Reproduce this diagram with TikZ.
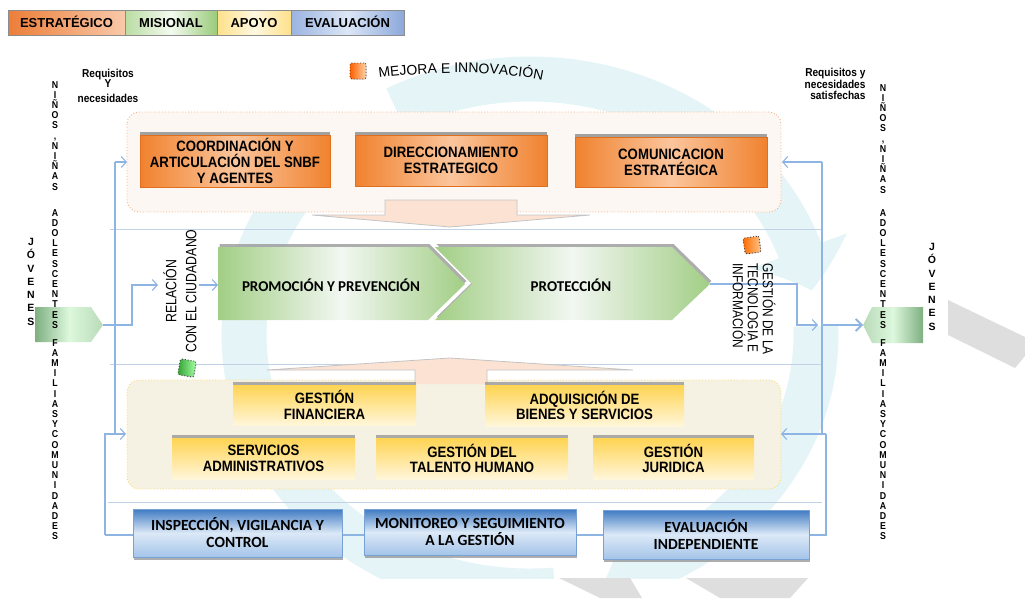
\documentclass[tikz,border=0pt]{standalone}
\usepackage{fontspec}
\setmainfont{Liberation Sans}
\newfontfamily\narrowf[FakeStretch=0.88]{Liberation Sans}
\newfontfamily\rotf[FakeStretch=0.82]{Liberation Sans}
\newfontfamily\calib{Carlito}
\usetikzlibrary{arrows.meta,bending,shadows,decorations.text,calc}
\definecolor{ringc}{HTML}{E5F4F7}
\definecolor{greyc}{HTML}{DEDEDE}
\definecolor{connc}{HTML}{8DB4E2}
\definecolor{sepc}{HTML}{C2D2E6}
\definecolor{topfill}{HTML}{FDF7F3}
\definecolor{topbord}{HTML}{F4B183}
\definecolor{botfill}{HTML}{F5F2E3}
\definecolor{botbord}{HTML}{FFD966}
\definecolor{peach}{HTML}{FBE2D2}
\definecolor{peachb}{HTML}{C4C4C4}
\definecolor{orA}{HTML}{F0822F}
\definecolor{orB}{HTML}{FBC59C}
\definecolor{orBd}{HTML}{E0701E}
\definecolor{yeA}{HTML}{FFD452}
\definecolor{yeB}{HTML}{FFF6DA}
\definecolor{blA}{HTML}{3F7AC2}
\definecolor{blB}{HTML}{DCE9F7}
\definecolor{blC}{HTML}{A4C4E9}
\definecolor{grA}{HTML}{A2CE85}
\definecolor{grB}{HTML}{F2F7F2}
\definecolor{pdark}{HTML}{7FAF80}
\definecolor{pmint}{HTML}{DDF8DD}
\definecolor{pmid}{HTML}{B9DAB9}
\definecolor{lgOa}{HTML}{EC7E38}
\definecolor{lgOb}{HTML}{F9C9AA}
\definecolor{lgGa}{HTML}{B9DCA2}
\definecolor{lgGb}{HTML}{F3FAEF}
\definecolor{lgGc}{HTML}{9ACB7A}
\definecolor{lgYa}{HTML}{FFE08A}
\definecolor{lgYb}{HTML}{FFF8E0}
\definecolor{lgBa}{HTML}{9AB3E0}
\definecolor{lgBb}{HTML}{DCE6F6}
\definecolor{lgBc}{HTML}{8CA8DA}
\begin{document}
\begin{tikzpicture}[x=1pt,y=-1pt,
  leg/.style={draw=black!45, line width=0.6pt, inner sep=0pt, minimum height=25pt,
    text height=9.4pt, text depth=0pt, font=\bfseries\fontsize{13}{13}\selectfont},
  cont/.style={rounded corners=12pt, line width=0.9pt, dotted},
  sep/.style={draw=sepc, line width=0.8pt},
  conn/.style={draw=connc, line width=1.1pt},
  arr/.style={-{Straight Barb[length=5pt,width=11pt]}},
  ringarrow/.style={draw=ringc, line width=45pt, -{Triangle[length=42pt,width=100pt,bend]}},
  obox/.style={draw=orBd, line width=0.5pt, inner sep=0pt, align=center,
    left color=orA, right color=orA, middle color=orB,
    drop shadow={shadow xshift=0pt, shadow yshift=3pt, fill=black!45, opacity=0.8},
    font=\narrowf\bfseries\fontsize{15}{16}\selectfont},
  ybox/.style={inner sep=0pt, align=center, top color=yeA, bottom color=yeB,
    drop shadow={shadow xshift=0pt, shadow yshift=3pt, fill=black!40, opacity=0.8},
    font=\narrowf\bfseries\fontsize{15}{15.5}\selectfont},
  bbox/.style={draw=blA!70, line width=0.4pt, inner sep=0pt, align=center,
    top color=blA, bottom color=blC, middle color=blB,
    drop shadow={shadow xshift=1pt, shadow yshift=-3pt, fill=black!45, opacity=0.7},
    font=\calib\bfseries\fontsize{15.5}{17}\selectfont},
  chev/.style={left color=grA, right color=grA, middle color=grB,
    drop shadow={shadow xshift=1.5pt, shadow yshift=3pt, fill=black!40, opacity=0.8}},
  sq/.style={draw=black!75, dotted, line width=0.9pt, rounded corners=2pt,
    minimum size=16pt, inner sep=0pt,
    drop shadow={shadow xshift=0.5pt, shadow yshift=-0.5pt, fill=black!30, opacity=0.6}},
  stack/.style={align=center, inner sep=0pt, anchor=north,
    font=\narrowf\bfseries\fontsize{10}{10.2}\selectfont},
  jstack/.style={align=center, inner sep=0pt, anchor=north,
    font=\bfseries\fontsize{10.5}{13.3}\selectfont},
  peacharrow/.style={fill=peach, draw=peachb, line width=0.8pt}
]
\useasboundingbox (0,0) rectangle (1025,598);
% ---------- background decoration ----------
\begin{scope}
\clip (0,0) rectangle (1025,578);
\coordinate (RC) at (530,335);
\draw[ringarrow] ($(RC)+(85:286 and 256)$) arc[start angle=85, end angle=232, x radius=286, y radius=256];
\draw[ringarrow] ($(RC)+(242:286 and 256)$) arc[start angle=242, end angle=350, x radius=286, y radius=256];
\draw[ringarrow] ($(RC)+(-2:286 and 256)$) arc[start angle=-2, end angle=75, x radius=286, y radius=256];
\end{scope}
\fill[greyc] (948,300) -- (1025,337) -- (1025,356) -- (1015,368) -- (948,335) -- cycle;
\fill[greyc] (559,578) -- (630,578) -- (642,598) -- (600,598) -- cycle;
\fill[greyc] (686,578) -- (808,578) -- (790,598) -- (720,598) -- cycle;
% ---------- legend ----------
\node[leg, minimum width=117pt, left color=lgOa, right color=lgOb] (lE) at (66.5,22.5) {ESTRATÉGICO};
\node[leg, minimum width=92pt, left color=lgGa, right color=lgGc, middle color=lgGb] (lM) at (171,22.5) {MISIONAL};
\node[leg, minimum width=74pt, left color=lgYa, right color=lgYa, middle color=lgYb] (lA) at (254,22.5) {APOYO};
\node[leg, minimum width=113pt, left color=lgBa, right color=lgBc, middle color=lgBb] (lV) at (347.5,22.5) {EVALUACIÓN};
% ---------- containers ----------
\draw[cont, draw=topbord, fill=topfill] (127,112) rectangle (781,212);
\draw[cont, draw=botbord, fill=botfill] (127,380) rectangle (781,489);
% separators
\draw[sep] (110,229) -- (822,229);
\draw[sep] (110,364) -- (822,364);
\draw[sep] (108,502) -- (822,502);
% ---------- pentagons ----------
\path[left color=pdark, right color=pmid, middle color=pmint] (35,307) -- (91,307) -- (103,325) -- (91,342) -- (35,342) -- cycle;
\path[left color=pmid, right color=pdark, middle color=pmint] (863,325) -- (872,307) -- (923,307) -- (923,343) -- (872,343) -- cycle;
\coordinate (pentL) at (103,325);
\coordinate (pentR) at (863,325);
% ---------- side texts ----------
\node[font=\narrowf\bfseries\fontsize{11.5}{11.5}\selectfont, align=center] (reqL) at (108,86)
  {Requisitos\\[-1pt]Y\\[3.5pt]necesidades};
\node[font=\narrowf\bfseries\fontsize{11.5}{11.7}\selectfont, align=right, anchor=east] (reqR) at (869,84)
  {Requisitos y\\necesidades\\satisfechas};
\node[stack] (lc1) at (55,81) {N\\I\\Ñ\\O\\S\\,\\N\\I\\Ñ\\A\\S};
\node[stack] (lc2) at (55,209) {A\\D\\O\\L\\E\\S\\C\\E\\N\\T\\E\\S};
\node[stack] (lc3) at (55,339) {F\\A\\M\\I\\L\\I\\A\\S\\Y\\C\\O\\M\\U\\N\\I\\D\\A\\D\\E\\S};
\node[stack] (rc1) at (883,84) {N\\I\\Ñ\\O\\S\\,\\N\\I\\Ñ\\A\\S};
\node[stack] (rc2) at (883,209) {A\\D\\O\\L\\E\\S\\C\\E\\N\\T\\E\\S};
\node[stack] (rc3) at (883,339) {F\\A\\M\\I\\L\\I\\A\\S\\Y\\C\\O\\M\\U\\N\\I\\D\\A\\D\\E\\S};
\node[jstack] (jl) at (31,238) {J\\Ó\\V\\E\\N\\E\\S};
\node[jstack] (jr) at (932,243) {J\\Ó\\V\\E\\N\\E\\S};
% ---------- connectors ----------
\coordinate (ltop) at (115,162);
\coordinate (lbot) at (115,434);
\coordinate (lloopa) at (105,434);
\coordinate (lloopb) at (105,535);
\coordinate (rloopb) at (826,535);
\coordinate (rloopa) at (826,434);
\coordinate (rtop) at (822,162);
\coordinate (rmid) at (822,434);
\coordinate (topL) at (127,162);
\coordinate (topR) at (782,162);
\coordinate (botL) at (126,434);
\coordinate (botR) at (781,434);
\draw[conn] (ltop) -- (lbot);
\draw[conn, arr] (ltop) -- (topL);
\draw[conn, arr] (lloopb) -- (lloopa) -- (botL);
\draw[conn] (lloopb) -- (rloopb) -- (rloopa);
\draw[conn, arr] (rloopa) -- (botR);
\draw[conn] (rtop) -- (rmid);
\draw[conn, arr] (rtop) -- (topR);
% ---------- big peach arrows ----------
\draw[peacharrow] (385,200) -- (517,200) -- (517,215) -- (590,215) -- (450,227) -- (312,215) -- (385,215) -- cycle;
\draw[peacharrow] (415,384) -- (415,370) -- (267,370) -- (450,358) -- (633,370) -- (487,370) -- (487,384);
% ---------- orange boxes ----------
\node[obox, minimum width=190pt, minimum height=52pt] (o1) at (235,161) {COORDINACIÓN Y\\ARTICULACIÓN DEL SNBF\\Y AGENTES};
\node[obox, minimum width=192pt, minimum height=51pt] (o2) at (451,160.5) {DIRECCIONAMIENTO\\ESTRATEGICO};
\node[obox, minimum width=192pt, minimum height=50pt] (o3) at (671,162) {COMUNICACION\\ESTRATÉGICA};
% ---------- chevrons ----------
\path[chev] (218,247) -- (428,247) -- (465,284) -- (428,320) -- (218,320) -- cycle;
\path[chev] (435,247) -- (672,247) -- (710,284) -- (672,320) -- (435,320) -- (472,284) -- cycle;
\node[font=\calib\bfseries\fontsize{15}{15}\selectfont] (promo) at (331,285) {PROMOCIÓN Y PREVENCIÓN};
\node[font=\calib\bfseries\fontsize{15}{15}\selectfont] (prot) at (571,285) {PROTECCIÓN};
\coordinate (protTip) at (710,284);
\coordinate (promoIn) at (218,285);
\coordinate (inA) at (132,325);
\coordinate (inB) at (132,285);
\coordinate (inC) at (158,285);
\coordinate (inD) at (199,285);
\coordinate (outA) at (797,284);
\coordinate (outB) at (797,325);
\coordinate (outC) at (818,325);
\coordinate (outD) at (822,325);
\draw[conn, arr] (pentL) -- (inA) -- (inB) -- (inC);
\draw[conn, arr] (inD) -- (promoIn);
\draw[conn, arr] (protTip) -- (outA) -- (outB) -- (outC);
\draw[conn, line width=1.8pt, -{Straight Barb[length=6pt,width=12pt]}] (outD) -- (pentR);
% ---------- rotated labels ----------
\node[rotate=90, align=center, font=\rotf\fontsize{15}{20}\selectfont] (rel) at (180,291) {RELACIÓN\\CON EL CIUDADANO};
\node[rotate=-90, align=left, font=\rotf\fontsize{14.5}{15}\selectfont] (tec) at (754,309) {GESTIÓN DE LA\\TECNOLOGIA E\\INFORMACIÓN};
% ---------- small squares ----------
\node[sq, rotate=-10, left color=green!55!black!80, right color=green!35!white] (sqG) at (187,368) {};
\node[sq, rotate=8, left color=orange!85!red, right color=orange!45!white] (sqO) at (752,245) {};
\node[sq, left color=orange!75!red, right color=orange!35!white] (sqM) at (358,71) {};
\path[decorate, decoration={text along path, text align=left,
   text={|\fontsize{14}{14}\selectfont|MEJORA E INNOVACIÓN}}]
   (379,78) .. controls (440,70) and (510,71) .. (556,84);
% ---------- yellow boxes ----------
\node[ybox, minimum width=183pt, minimum height=40pt] (y1) at (324.5,405) {GESTIÓN\\FINANCIERA};
\node[ybox, minimum width=199pt, minimum height=41pt] (y2) at (584.5,405.5) {ADQUISICIÓN DE\\BIENES Y SERVICIOS};
\node[ybox, minimum width=183pt, minimum height=41pt] (y3) at (263.5,458.5) {SERVICIOS\\ADMINISTRATIVOS};
\node[ybox, minimum width=192pt, minimum height=41pt] (y4) at (472,458.5) {GESTIÓN DEL\\TALENTO HUMANO};
\node[ybox, minimum width=161pt, minimum height=41pt] (y5) at (673.5,458.5) {GESTIÓN\\JURIDICA};
% ---------- blue boxes ----------
\node[bbox, minimum width=209pt, minimum height=48pt] (b1) at (237.5,533) {INSPECCIÓN, VIGILANCIA Y\\CONTROL};
\node[bbox, minimum width=212pt, minimum height=46pt] (b2) at (470,532) {MONITOREO Y SEGUIMIENTO\\A LA GESTIÓN};
\node[bbox, minimum width=206pt, minimum height=49pt] (b3) at (706,534.5) {EVALUACIÓN\\INDEPENDIENTE};
\end{tikzpicture}
\end{document}
